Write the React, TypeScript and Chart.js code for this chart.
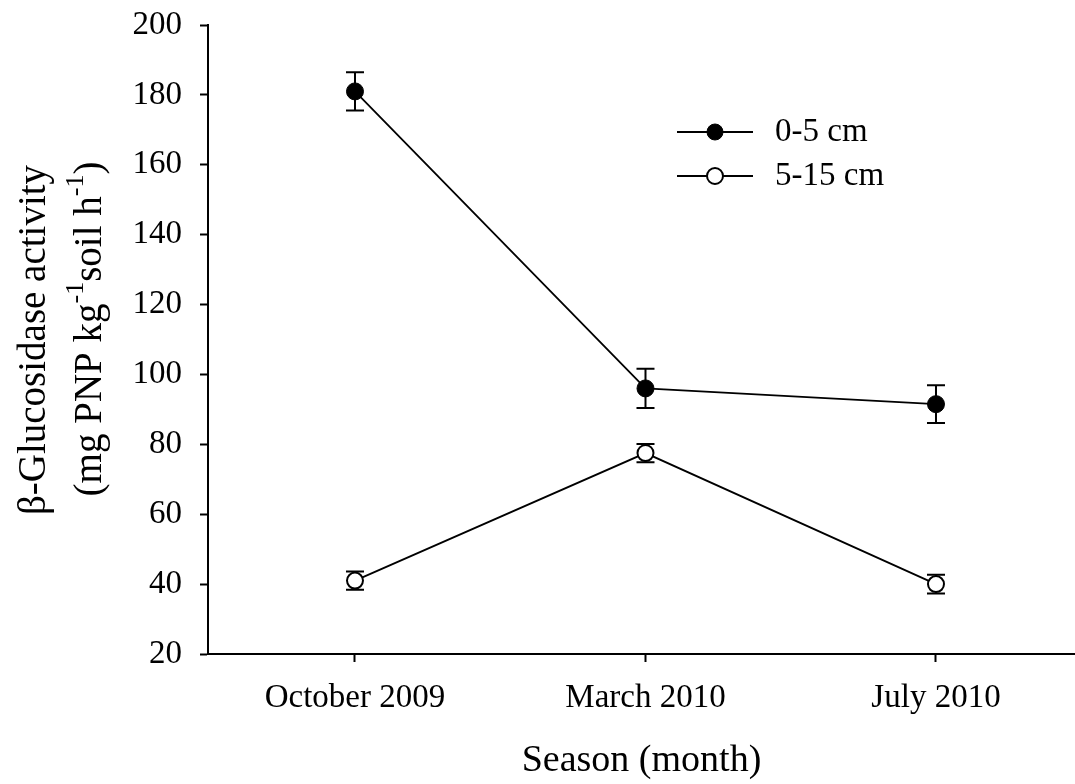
import React, { useEffect, useRef } from "react";
import { Chart, registerables } from "chart.js";

Chart.register(...registerables);

const seasons = ["October 2009", "March 2010", "July 2010"];
const seasonPositions = [1, 2, 3];
const seriesNames = ["0-5 cm", "5-15 cm"];
const depth0to5 = [181, 96, 91.5];
const depth0to5Err = [5.5, 5.6, 5.4];
const depth5to15 = [41, 77.5, 40];
const depth5to15Err = [2.6, 2.6, 2.7];
const yTickValues = [20, 40, 60, 80, 100, 120, 140, 160, 180, 200];

const SERIF = "'Liberation Serif', 'Times New Roman', serif";

const errorBarPlugin = {
  id: "errorBars",
  beforeDatasetsDraw(chart: any) {
    const ctx = chart.ctx;
    const xs = chart.scales.x;
    const ys = chart.scales.y;
    const errs = [depth0to5Err, depth5to15Err];
    const vals = [depth0to5, depth5to15];
    ctx.save();
    ctx.strokeStyle = "#000";
    ctx.lineWidth = 2;
    for (let i = 0; i < vals.length; i++) {
      for (let j = 0; j < vals[i].length; j++) {
        const x = xs.getPixelForValue(seasonPositions[j]);
        const yt = ys.getPixelForValue(vals[i][j] + errs[i][j]);
        const yb = ys.getPixelForValue(vals[i][j] - errs[i][j]);
        const cap = 9;
        ctx.beginPath();
        ctx.moveTo(x, yt);
        ctx.lineTo(x, yb);
        ctx.moveTo(x - cap, yt);
        ctx.lineTo(x + cap, yt);
        ctx.moveTo(x - cap, yb);
        ctx.lineTo(x + cap, yb);
        ctx.stroke();
      }
    }
    ctx.restore();
  },
};

const legendPlugin = {
  id: "customLegend",
  afterDraw(chart: any) {
    const ctx = chart.ctx;
    ctx.save();
    const rows = [
      { y: 132, fill: "#000" },
      { y: 176, fill: "#fff" },
    ];
    rows.forEach((r, i) => {
      ctx.strokeStyle = "#000";
      ctx.lineWidth = 2;
      ctx.beginPath();
      ctx.moveTo(677, r.y);
      ctx.lineTo(753, r.y);
      ctx.stroke();
      ctx.beginPath();
      ctx.arc(715, r.y, 8, 0, Math.PI * 2);
      ctx.fillStyle = r.fill;
      ctx.fill();
      ctx.lineWidth = i === 0 ? 1 : 2;
      ctx.stroke();
      ctx.fillStyle = "#000";
      ctx.font = `33px ${SERIF}`;
      ctx.textAlign = "left";
      ctx.textBaseline = "middle";
      ctx.fillText(seriesNames[i], 775, r.y);
    });
    ctx.restore();
  },
};

const yTitlePlugin = {
  id: "yTitle",
  afterDraw(chart: any) {
    const ctx = chart.ctx;
    ctx.save();
    ctx.fillStyle = "#000";
    ctx.textBaseline = "alphabetic";
    ctx.textAlign = "left";
    const main = `39px ${SERIF}`;
    const sup = `26px ${SERIF}`;
    // line 1
    ctx.save();
    ctx.translate(45, 340);
    ctx.rotate(-Math.PI / 2);
    ctx.font = main;
    const t1 = "\u03B2-Glucosidase activity";
    const w1 = ctx.measureText(t1).width;
    ctx.fillText(t1, -w1 / 2, 0);
    ctx.restore();
    // line 2 with superscripts
    const parts: [string, boolean][] = [
      ["(mg PNP kg", false],
      ["-1", true],
      ["soil h", false],
      ["-1", true],
      [")", false],
    ];
    ctx.save();
    ctx.translate(101, 329);
    ctx.rotate(-Math.PI / 2);
    let total = 0;
    const widths = parts.map(([t, s]) => {
      ctx.font = s ? sup : main;
      const w = ctx.measureText(t).width;
      total += w;
      return w;
    });
    let x = -total / 2;
    parts.forEach(([t, s], k) => {
      ctx.font = s ? sup : main;
      ctx.fillText(t, x, s ? -18 : 0);
      x += widths[k];
    });
    ctx.restore();
    ctx.restore();
  },
};

export default function App() {
  const ref = useRef<HTMLCanvasElement | null>(null);
  useEffect(() => {
    if (!ref.current) return;
    const chart = new Chart(ref.current, {
      type: "line",
      data: {
        datasets: [
          {
            label: seriesNames[0],
            data: seasonPositions.map((p, i) => ({ x: p, y: depth0to5[i] })),
            borderColor: "#000",
            borderWidth: 1.8,
            pointRadius: 8.5,
            pointBackgroundColor: "#000",
            pointBorderColor: "#000",
            pointBorderWidth: 1,
            fill: false,
          },
          {
            label: seriesNames[1],
            data: seasonPositions.map((p, i) => ({ x: p, y: depth5to15[i] })),
            borderColor: "#000",
            borderWidth: 1.8,
            pointRadius: 8,
            pointBackgroundColor: "#fff",
            pointBorderColor: "#000",
            pointBorderWidth: 2,
            fill: false,
          },
        ],
      },
      options: {
        responsive: false,
        animation: false,
        layout: { autoPadding: false, padding: { top: 25, right: 0, left: 0, bottom: 0 } },
        plugins: {
          legend: { display: false },
          tooltip: { enabled: false },
        },
        scales: {
          x: {
            type: "linear",
            min: 0.494,
            max: 3.4785,
            afterBuildTicks: (scale: any) => {
              scale.ticks = seasonPositions.map((v) => ({ value: v }));
            },
            afterFit: (scale: any) => {
              scale.height = 130;
              scale.paddingLeft = 0;
              scale.paddingRight = 0;
            },
            ticks: {
              callback: (v: any) => seasons[Math.round(Number(v)) - 1] ?? "",
              color: "#000",
              font: { family: SERIF, size: 33 },
              padding: 17,
              maxRotation: 0,
              autoSkip: false,
            },
            grid: {
              drawOnChartArea: false,
              drawTicks: true,
              tickLength: 8,
              tickColor: "#000",
              tickWidth: 2,
            },
            border: { display: true, color: "#000", width: 2 },
            title: {
              display: true,
              text: "Season (month)",
              color: "#000",
              font: { family: SERIF, size: 38 },
              padding: { top: 0, bottom: 0 },
            },
          },
          y: {
            type: "linear",
            min: 20,
            max: 200,
            afterBuildTicks: (scale: any) => {
              scale.ticks = yTickValues.map((v) => ({ value: v }));
            },
            afterFit: (scale: any) => {
              scale.width = 208;
              scale.paddingTop = 0;
              scale.paddingBottom = 0;
            },
            ticks: {
              color: "#000",
              font: { family: SERIF, size: 33 },
              padding: 18,
            },
            grid: {
              drawOnChartArea: false,
              drawTicks: true,
              tickLength: 8,
              tickColor: "#000",
              tickWidth: 2,
            },
            border: { display: true, color: "#000", width: 2 },
          },
        },
      },
      plugins: [errorBarPlugin, legendPlugin, yTitlePlugin],
    } as any);
    return () => chart.destroy();
  }, []);
  return (
    <div style={{ position: "fixed", left: 0, top: 0, width: 1075, height: 784, background: "#fff" }}>
      <canvas ref={ref} width={1075} height={784} />
    </div>
  );
}
